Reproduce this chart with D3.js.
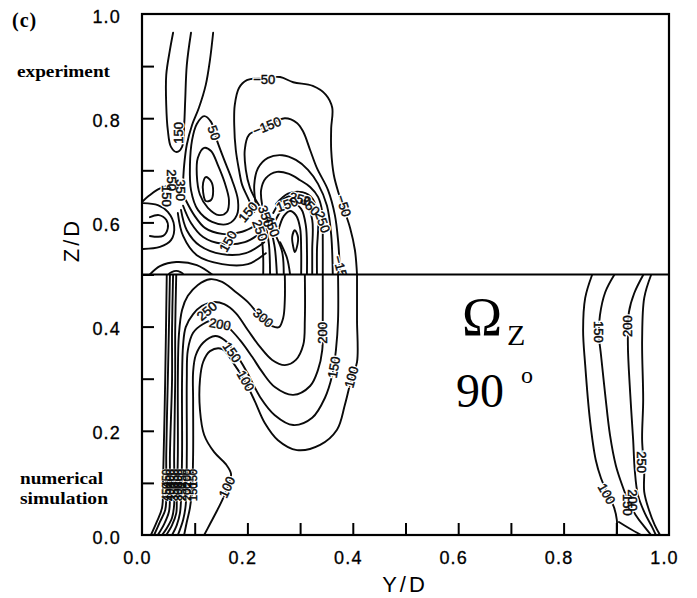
<!DOCTYPE html>
<html><head><meta charset="utf-8">
<script src="https://cdn.jsdelivr.net/npm/d3@7"></script>
<style>
html,body{margin:0;padding:0;background:#fff;}
svg{display:block;}
</style></head>
<body>
<svg id="chart" width="697" height="598"></svg>
<script>
// ---- axis ticks ----
const xMinorTicks = [0.1,0.2,0.3,0.4,0.5,0.6,0.7,0.8,0.9];
const yMinorTicks = [0.1,0.2,0.3,0.4,0.5,0.6,0.7,0.8,0.9];
const majorTicks  = [0,0.2,0.4,0.6,0.8,1.0];
const tickLabels  = ["0.0","0.2","0.4","0.6","0.8","1.0"];

// ---- measured contours (upper half, Z/D > 0.5), points are [Y/D, Z/D] ----
const expA150   = [[.059,.964],[.053,.931],[.046,.883],[.046,.825],[.049,.777],[.055,.745],[.066,.735],[.076,.745],[.080,.787],[.082,.835],[.085,.902],[.093,.964]];
const expB50    = [[.135,.964],[.129,.912],[.121,.864],[.108,.820],[.095,.787],[.085,.749],[.080,.710],[.078,.678]];
const expLoop50 = [[.118,.804],[.131,.793],[.142,.758],[.156,.720],[.171,.681],[.182,.643],[.180,.614],[.163,.597],[.133,.601],[.106,.624],[.093,.662],[.091,.710],[.095,.758],[.104,.789]];
const expLoop150= [[.118,.743],[.131,.737],[.144,.710],[.157,.676],[.165,.643],[.161,.620],[.146,.614],[.125,.628],[.110,.653],[.104,.691],[.106,.724]];
const expLoop250= [[.121,.687],[.131,.679],[.135,.660],[.131,.643],[.121,.641],[.116,.658],[.116,.676]];
const expNeg50  = [[.213,.620],[.201,.647],[.190,.672],[.184,.701],[.178,.739],[.175,.787],[.176,.825],[.184,.858],[.199,.873],[.232,.877],[.262,.879],[.287,.869],[.324,.862],[.349,.845],[.361,.820],[.359,.781],[.359,.739],[.364,.691],[.374,.653],[.395,.589],[.404,.547],[.408,.5]];
const expNeg150 = [[.228,.624],[.216,.643],[.205,.666],[.197,.701],[.195,.739],[.203,.768],[.233,.783],[.271,.800],[.294,.791],[.306,.774],[.319,.739],[.332,.704],[.353,.662],[.366,.614],[.372,.566],[.376,.5]];
const expNeg250 = [[.216,.633],[.213,.672],[.220,.704],[.239,.724],[.266,.729],[.292,.720],[.315,.701],[.334,.674],[.351,.632],[.359,.576],[.362,.5]];
const expArch5  = [[.228,.633],[.226,.662],[.235,.685],[.256,.697],[.279,.693],[.300,.681],[.319,.668],[.334,.649],[.342,.620],[.343,.566],[.343,.5]];
const expArch4  = [[.254,.635],[.277,.655],[.304,.658],[.324,.645],[.334,.608],[.332,.547],[.332,.5]];
const expArch3  = [[.249,.618],[.266,.643],[.290,.651],[.311,.639],[.323,.605],[.323,.547],[.323,.5]];
const expArch2  = [[.252,.601],[.268,.628],[.285,.637],[.302,.626],[.311,.593],[.313,.547],[.313,.5]];
const expArch1  = [[.258,.582],[.269,.612],[.281,.622],[.292,.614],[.300,.589],[.302,.547],[.302,.5]];
const expTear   = [[.290,.585],[.296,.572],[.294,.553],[.290,.543],[.287,.553],[.285,.572]];
const expD1 = [[.224,.601],[.228,.566],[.230,.532],[.230,.5]];
const expD2 = [[.235,.593],[.241,.557],[.243,.5]];
const expD3 = [[.245,.585],[.252,.551],[.256,.5]];
const expD4 = [[.254,.574],[.266,.543],[.269,.5]];
const expD5 = [[.262,.562],[.275,.532],[.281,.5]];
const expG1 = [[.083,.643],[.099,.614],[.120,.589],[.152,.578],[.190,.582],[.220,.597]];
const expG2 = [[.078,.632],[.093,.599],[.116,.572],[.152,.559],[.195,.562],[.228,.582]];
const expF1 = [[.074,.624],[.085,.585],[.110,.555],[.152,.539],[.197,.541],[.232,.562]];
const expF2 = [[.068,.618],[.078,.574],[.104,.537],[.152,.520],[.201,.520],[.235,.541]];
const expLobe2 = [[.002,.637],[.030,.633],[.049,.620],[.061,.593],[.055,.566],[.034,.553],[.002,.549]];
const expLobe1 = [[.015,.610],[.032,.614],[.046,.605],[.049,.589],[.040,.574],[.015,.574]];
const expH1 = [[.015,.5],[.034,.516],[.065,.524],[.104,.518],[.133,.5]];
const expK1 = [[.047,.670],[.028,.662],[.013,.651],[.002,.641]];
const expOval = [[.051,.501],[.065,.507],[.078,.501],[.065,.495]];

// ---- computed contours (lower half, Z/D < 0.5) ----
const simL100 = [[.118,0],[.129,.021],[.142,.046],[.154,.071],[.163,.094],[.169,.117],[.159,.136],[.137,.159],[.118,.192],[.110,.240],[.110,.298],[.116,.332],[.129,.353],[.152,.357],[.176,.326],[.195,.296],[.214,.257],[.233,.215],[.258,.182],[.294,.163],[.338,.173],[.370,.202],[.385,.250],[.397,.298],[.408,.332],[.408,.413],[.408,.5]];
const simL150 = [[.080,0],[.085,.025],[.091,.052],[.095,.086],[.097,.154],[.097,.259],[.097,.313],[.102,.345],[.116,.369],[.139,.382],[.157,.374],[.176,.351],[.199,.313],[.224,.265],[.252,.230],[.287,.211],[.323,.225],[.347,.263],[.361,.307],[.368,.355],[.372,.413],[.372,.5]];
const simL200 = [[.068,0],[.078,.029],[.083,.058],[.085,.154],[.085,.298],[.087,.355],[.097,.388],[.116,.405],[.139,.413],[.163,.399],[.186,.374],[.209,.342],[.228,.313],[.252,.284],[.287,.269],[.319,.286],[.334,.317],[.342,.355],[.343,.413],[.343,.5]];
const simL250 = [[.057,0],[.066,.019],[.072,.042],[.074,.067],[.076,.154],[.076,.298],[.078,.365],[.083,.399],[.097,.424],[.114,.440],[.135,.447],[.156,.443],[.178,.426],[.201,.393],[.224,.361],[.247,.336],[.271,.326],[.292,.336],[.306,.365],[.309,.413],[.309,.5]];
const simL300 = [[.046,0],[.057,.019],[.065,.042],[.066,.067],[.068,.154],[.068,.298],[.070,.384],[.076,.432],[.087,.459],[.106,.480],[.129,.491],[.152,.486],[.176,.468],[.201,.447],[.224,.420],[.247,.401],[.260,.399],[.268,.417],[.271,.451],[.271,.5]];
const simL350 = [[.038,0],[.047,.013],[.057,.033],[.061,.058],[.061,.154],[.063,.298],[.063,.393],[.065,.5]];
const simL400 = [[.030,0],[.042,.021],[.051,.044],[.053,.067],[.053,.154],[.057,.298],[.057,.393],[.059,.5]];
const simL450 = [[.023,0],[.034,.025],[.044,.048],[.046,.067],[.046,.154],[.049,.298],[.051,.393],[.053,.5]];
const simL500 = [[.017,0],[.028,.025],[.038,.052],[.040,.106],[.044,.298],[.047,.5]];
const simR100 = [[.854,.499],[.841,.455],[.837,.393],[.841,.326],[.850,.221],[.861,.144],[.871,.109],[.884,.079],[.896,.052],[.901,.029],[.901,0]];
const simR100b= [[.905,.025],[.926,.012],[.947,0]];
const simR150 = [[.896,.499],[.879,.466],[.869,.422],[.867,.384],[.871,.345],[.879,.269],[.888,.192],[.899,.134],[.911,.096],[.922,.067],[.937,.038],[.954,.015],[.966,0]];
const simR200 = [[.951,.499],[.934,.464],[.924,.428],[.922,.365],[.926,.278],[.932,.182],[.935,.125],[.941,.077],[.954,.042],[.968,.015],[.975,0]];
const simR250 = [[.966,.499],[.953,.455],[.949,.374],[.951,.259],[.949,.182],[.953,.125],[.953,.083],[.962,.048],[.973,.019],[.983,0]];

// ---- contour labels: [text, Y/D, Z/D, rotation] ----
const expLabels = [
  ["150",.068,.772,-90],["50",.137,.772,70],["−50",.232,.875,0],["−150",.237,.785,-22],
  ["−50",.383,.632,72],["−150",.378,.509,75],["250",.343,.601,70],
  ["250",.057,.681,90],["350",.074,.662,90],["150",.047,.651,90],
  ["350",.235,.612,70],["450",.247,.593,70],["250",.224,.585,70],
  ["150",.201,.620,-50],["150",.163,.564,-60],
  ["150",.275,.635,-20],["250",.300,.645,15],["350",.319,.632,45]
];
const simLabels = [
  ["300",.230,.417,40],["250",.123,.430,-40],["200",.148,.405,10],["150",.171,.351,55],
  ["100",.197,.296,60],["200",.343,.388,-90],["150",.364,.322,-80],["100",.397,.303,-75],
  ["100",.161,.092,-65],
  ["150",.867,.390,90],["200",.920,.401,-90],["250",.949,.140,90],["100",.882,.079,60],
  ["150",.922,.058,90],["200",.932,.067,90]
];
const wallLevels = ["450","400","350","300","250","200","150"];
const wallY      = [.046,.053,.061,.068,.076,.085,.097];
const wallRowsZ  = [.109,.083];

const experiment = [
  {pts:expA150},{pts:expB50},{pts:expLoop50,closed:true},{pts:expLoop150,closed:true},{pts:expLoop250,closed:true},
  {pts:expNeg50},{pts:expNeg150},{pts:expNeg250},{pts:expArch5},{pts:expArch4},{pts:expArch3},{pts:expArch2},{pts:expArch1},
  {pts:expTear,closed:true},{pts:expD1},{pts:expD2},{pts:expD3},{pts:expD4},{pts:expD5},
  {pts:expG1},{pts:expG2},{pts:expF1},{pts:expF2},{pts:expLobe2},{pts:expLobe1},{pts:expH1},{pts:expK1},
  {pts:expOval,closed:true}
];
const simulation = [
  {pts:simL100},{pts:simL150},{pts:simL200},{pts:simL250},{pts:simL300},{pts:simL350},{pts:simL400},{pts:simL450},{pts:simL500},
  {pts:simR100},{pts:simR100b},{pts:simR150},{pts:simR200},{pts:simR250}
];

// ---- drawing ----
const svg = d3.select("#chart");
const x = d3.scaleLinear().domain([0,1]).range([142,669]);
const y = d3.scaleLinear().domain([0,1]).range([535,14]);
const openLine   = d3.line().x(d=>x(d[0])).y(d=>y(d[1])).curve(d3.curveCatmullRom.alpha(0.5));
const closedLine = d3.line().x(d=>x(d[0])).y(d=>y(d[1])).curve(d3.curveCatmullRomClosed.alpha(0.5));

const defs = svg.append("defs");
defs.append("clipPath").attr("id","clipTop").append("rect")
  .attr("x",x(0)).attr("y",y(1)).attr("width",x(1)-x(0)).attr("height",y(0.5)-y(1));
defs.append("clipPath").attr("id","clipBot").append("rect")
  .attr("x",x(0)).attr("y",y(0.5)).attr("width",x(1)-x(0)).attr("height",y(0)-y(0.5));

const labelFont = "'Liberation Sans',Arial,sans-serif";
function panel(clip, contours, labels, extra) {
  const g = svg.append("g").attr("clip-path",`url(#${clip})`);
  g.selectAll("path.c").data(contours).join("path").attr("class","c")
    .attr("d",d=>d.closed?closedLine(d.pts):openLine(d.pts))
    .attr("fill","none").attr("stroke","#0a0a0a").attr("stroke-width",1.9)
    .attr("stroke-linejoin","round").attr("stroke-linecap","round");
  const lab = labels.concat(extra||[]);
  const place = sel => sel
    .attr("transform",d=>`translate(${x(d[1])},${y(d[2])}) rotate(${d[3]})`)
    .attr("text-anchor","middle").attr("dy","0.36em")
    .attr("font-family",labelFont).attr("font-size",d=>d[4]||13)
    .text(d=>d[0]);
  // white knock-out behind each label, then the label itself
  g.selectAll("text.h").data(lab).join("text").attr("class","h").call(place)
    .attr("fill","#fff").attr("stroke","#fff").attr("stroke-width",d=>d[4]?1.5:3);
  g.selectAll("text.l").data(lab).join("text").attr("class","l").call(place)
    .attr("fill","#0a0a0a").attr("stroke","#0a0a0a").attr("stroke-width",0.45);
}
const wallLabels = [];
wallRowsZ.forEach(z=>wallLevels.forEach((t,i)=>wallLabels.push([t,wallY[i],z,-90,11])));

panel("clipTop", experiment, expLabels);
panel("clipBot", simulation, simLabels, wallLabels);

// frame and divider
svg.append("rect").attr("x",x(0)).attr("y",y(1)).attr("width",x(1)-x(0)).attr("height",y(0)-y(1))
  .attr("fill","none").attr("stroke","#000").attr("stroke-width",2.2);
svg.append("line").attr("x1",x(0)).attr("x2",x(1)).attr("y1",y(0.5)).attr("y2",y(0.5))
  .attr("stroke","#000").attr("stroke-width",2.2);

// axes (ticks point inward)
const tickFont = "'Liberation Sans',Arial,sans-serif";
const gxT = svg.append("g").attr("transform",`translate(0,${y(0)})`)
  .call(d3.axisBottom(x).tickValues(xMinorTicks).tickSize(-12).tickFormat(""));
const gyT = svg.append("g").attr("transform",`translate(${x(0)},0)`)
  .call(d3.axisLeft(y).tickValues(yMinorTicks).tickSize(-12).tickFormat(""));
[gxT,gyT].forEach(g=>{g.select(".domain").remove(); g.selectAll("line").attr("stroke","#000").attr("stroke-width",2);});

const gxL = svg.append("g").attr("transform",`translate(0,${y(0)})`)
  .call(d3.axisBottom(x).tickValues(majorTicks).tickSize(0).tickPadding(16).tickFormat((d,i)=>tickLabels[i]));
const gyL = svg.append("g").attr("transform",`translate(${x(0)},0)`)
  .call(d3.axisLeft(y).tickValues(majorTicks).tickSize(0).tickPadding(21).tickFormat((d,i)=>tickLabels[i]));
[gxL,gyL].forEach(g=>{
  g.select(".domain").remove();
  g.selectAll("text").attr("font-family",tickFont).attr("font-size",18).attr("letter-spacing","1.2px")
    .attr("fill","#000").attr("stroke","#000").attr("stroke-width",0.3);
});
gxL.selectAll("text").attr("dx",-5);
gyL.selectAll("text").attr("dy","0.45em");

svg.append("text").attr("x",405).attr("y",592).attr("text-anchor","middle")
  .attr("font-family",tickFont).attr("font-size",22).attr("letter-spacing","3px").text("Y/D");
svg.append("text").attr("transform","translate(79,240) rotate(-90)").attr("text-anchor","middle")
  .attr("font-family",tickFont).attr("font-size",22).attr("letter-spacing","3px").text("Z/D");

// annotations
const serif = "'Liberation Serif','Times New Roman',serif";
svg.append("text").attr("x",12).attr("y",27).attr("font-family",serif).attr("font-weight","bold")
  .attr("font-size",20).attr("letter-spacing","1px").text("(c)");
svg.append("text").attr("x",17).attr("y",77).attr("font-family",serif).attr("font-weight","bold")
  .attr("font-size",16).attr("textLength",93).attr("lengthAdjust","spacingAndGlyphs").text("experiment");
svg.append("text").attr("x",20).attr("y",484).attr("font-family",serif).attr("font-weight","bold")
  .attr("font-size",16).attr("textLength",83).attr("lengthAdjust","spacingAndGlyphs").text("numerical");
svg.append("text").attr("x",20).attr("y",504).attr("font-family",serif).attr("font-weight","bold")
  .attr("font-size",16).attr("textLength",88).attr("lengthAdjust","spacingAndGlyphs").text("simulation");

svg.append("text").attr("x",462).attr("y",335).attr("font-family",serif).attr("font-size",54).text("Ω");
svg.append("text").attr("x",507).attr("y",345).attr("font-family",serif).attr("font-size",30).text("Z");
svg.append("text").attr("x",456).attr("y",407).attr("font-family",serif).attr("font-size",48).text("90");
svg.append("text").attr("x",521).attr("y",383).attr("font-family",serif).attr("font-size",24).text("o");
</script>
</body></html>
